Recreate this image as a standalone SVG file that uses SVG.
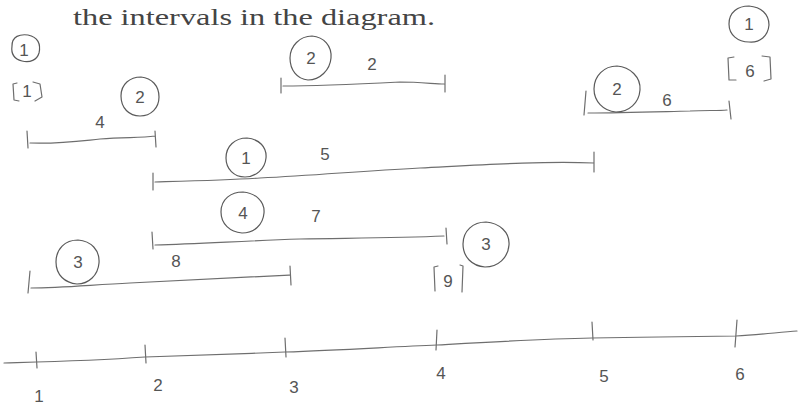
<svg xmlns="http://www.w3.org/2000/svg" width="798" height="408" viewBox="0 0 798 408">
<style>
.ln{fill:none;stroke:#6e6e6e;stroke-width:1.2;stroke-linecap:round;stroke-linejoin:round}
.cir{fill:none;stroke:#5a5a5a;stroke-width:1.2}
.hw{font-family:"Liberation Sans","DejaVu Sans",sans-serif;font-size:17px;fill:#555;text-anchor:middle}
.title{font-family:"Liberation Serif","DejaVu Serif",serif;font-size:24px;fill:#444}
</style>
<rect width="798" height="408" fill="#fff"/>
<text class="title" x="73" y="25" textLength="362" lengthAdjust="spacingAndGlyphs">the intervals in the diagram.</text>

<g id="topleft-marks">
<path class="cir" d="M12,46 C12,36 20,34 28,35 C38,37 41,44 39,53 C37,60 30,63 22,61 C14,59 11,53 12,46 Z"/>
<text class="hw" x="24" y="56" font-size="14">1</text>
<path class="ln" d="M17,83 L13,84 L14,100 L19,101 M33,82 L40,84 L42,97 L35,101"/>
<text class="hw" x="27" y="97" font-size="15">1</text>
</g>

<g id="interval-4">
<path class="ln" d="M27,131 L28,148 M30,143 C60,144 80,141 100,139 C125,137 140,138 155,136 M155,131 L156,147"/>
<path class="cir" d="M121,96 C121,84 130,77 141,77 C152,78 159,86 159,97 C159,108 151,116 140,116 C129,116 121,108 121,96 Z"/>
<text class="hw" x="140" y="103">2</text>
<text class="hw" x="100" y="128" font-size="18">4</text>
</g>

<g id="interval-2top">
<path class="ln" d="M281,78 L281,93 M283,86 C320,86 360,84 400,82 C420,82 435,84 444,84 M445,75 L445,92"/>
<path class="cir" d="M290,58 C290,46 300,36 312,36 C324,37 332,46 331,58 C330,70 320,80 308,80 C297,79 290,70 290,58 Z"/>
<text class="hw" x="311" y="64">2</text>
<text class="hw" x="372" y="70" font-size="14">2</text>
</g>

<g id="topright-marks">
<path class="cir" d="M729,24 C729,12 738,6 749,6 C761,7 769,14 769,25 C768,36 760,43 749,42 C738,42 729,35 729,24 Z"/>
<text class="hw" x="749" y="30" font-size="14">1</text>
<path class="ln" d="M734,57 L728,58 L729,80 L736,80 M762,56 L770,57 L771,79 L764,81"/>
<text class="hw" x="750" y="77" font-size="16">6</text>
</g>

<g id="interval-6">
<path class="ln" d="M586,91 L584,115 M588,113 C620,113 650,112 690,111 C705,110 718,111 727,110 M729,101 L731,119"/>
<path class="cir" d="M594,89 C594,76 604,66 617,66 C630,67 641,77 640,90 C639,103 629,112 616,112 C603,111 594,101 594,89 Z"/>
<text class="hw" x="617" y="95">2</text>
<text class="hw" x="667" y="106" font-size="15">6</text>
</g>

<g id="interval-5">
<path class="ln" d="M153,173 L153,190 M155,182 C190,181 230,180 260,178 C320,175 360,171 420,168 C480,165 540,161 594,163 M594,152 L594,172"/>
<path class="cir" d="M226,158 C226,146 235,138 247,138 C259,139 267,147 266,158 C265,169 256,177 245,177 C234,177 226,169 226,158 Z"/>
<text class="hw" x="246" y="164" font-size="14">1</text>
<text class="hw" x="325" y="160" font-size="18">5</text>
</g>

<g id="interval-7">
<path class="ln" d="M152,232 L153,249 M155,245 C200,244 240,241 300,239 C360,238 400,238 444,236 M446,228 L447,244"/>
<path class="cir" d="M221,212 C221,199 231,192 243,192 C255,193 265,201 264,213 C263,225 254,233 242,233 C230,232 221,224 221,212 Z"/>
<text class="hw" x="243" y="219">4</text>
<text class="hw" x="316" y="222" font-size="18">7</text>
</g>

<g id="interval-8">
<path class="ln" d="M30,271 L28,293 M31,288 C60,288 90,285 130,283 C190,280 240,278 290,275 M290,266 L291,285"/>
<path class="cir" d="M56,262 C56,249 65,240 78,240 C91,241 100,250 99,263 C98,275 89,284 77,284 C65,283 56,275 56,262 Z"/>
<text class="hw" x="78" y="268">3</text>
<text class="hw" x="176" y="267" font-size="17">8</text>
</g>

<g id="marks-3-9">
<path class="cir" d="M463,244 C463,231 473,222 486,222 C499,223 510,232 509,245 C508,258 498,267 485,267 C472,266 463,257 463,244 Z"/>
<text class="hw" x="486" y="250">3</text>
<path class="ln" d="M438,266 L434,267 L435,291 M460,265 L463,266 L462,292"/>
<text class="hw" x="448" y="287" font-size="17">9</text>
</g>

<g id="axis">
<path class="ln" d="M4,363 C40,362 90,361 145,357 C200,355 240,354 285,352 C340,350 390,347 437,345 C490,342 540,339 592,338 C640,337 690,337 736,336 C760,335 780,332 797,331"/>
<path class="ln" d="M36,352 L37,368 M145,345 L146,363 M285,338 L286,357 M437,330 L436,350 M592,322 L593,340 M737,320 L735,347"/>
<text class="hw" x="39" y="402" font-size="18">1</text>
<text class="hw" x="158" y="391" font-size="18">2</text>
<text class="hw" x="294" y="393" font-size="18">3</text>
<text class="hw" x="441" y="379" font-size="17">4</text>
<text class="hw" x="604" y="382" font-size="17">5</text>
<text class="hw" x="740" y="380" font-size="16">6</text>
</g>
</svg>
